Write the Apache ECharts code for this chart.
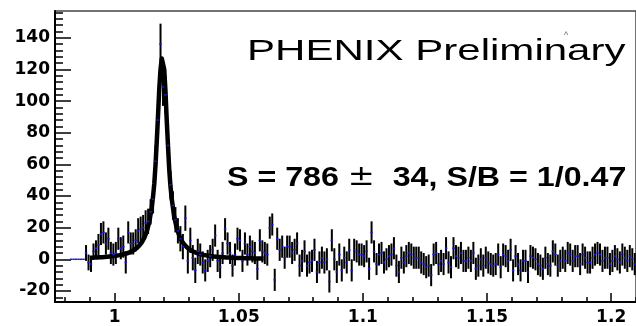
<!DOCTYPE html>
<html><head><meta charset="utf-8">
<script src="https://cdn.jsdelivr.net/npm/echarts@6/dist/echarts.min.js"></script>
<style>html,body{margin:0;padding:0;background:#fff}#c{width:636px;height:326px}</style>
</head><body><div id="c"></div>
<script>
// Histogram definition (bin edges start and width, GeV/c^2)
const binStart = 0.982;
const binWidth = 0.001;
// Counts per bin (first 6 bins empty)
const counts = [
  0,0,0,0,0,0,
  4,-2,-3,5,7,9,16,17,10,13,4,3,4,13,7,8,-2,17,10,10,12,18,19,20,23,24,30,38,
  62,88,136,109,104,72,47,34,25,18,13,8,
  26,-1,12,1,-7,5,3,-2,-7,-1,
  2,6,15,-1,-5,4,19,10,4,-4,
  3,13,12,-1,10,3,8,5,4,-6,
  12,5,4,3,20,22,-13,13,6,8,
  1,8,8,4,6,10,-4,-1,5,-4,
  -2,-1,6,-8,-2,1,-2,0,-14,12,
  0,-8,3,-7,1,-2,6,-7,6,5,
  3,3,2,5,-6,17,5,-3,3,4,
  -2,0,2,3,7,-4,-8,1,-2,2,
  4,3,1,1,1,-2,-3,-5,-4,-10,
  3,4,-3,-1,-3,7,-2,-5,7,2,
  1,4,-1,-1,1,-1,
  4,-6,-4,0,-4,1,-2,-3,-4,-3,
  3,-5,3,2,-1,6,-7,2,-3,-7,
  -1,-1,-8,2,1,0,-3,-4,-6,1,
  -3,-4,5,3,-4,-1,1,-1,4,3,
  -1,2,2,-3,3,1,-2,-2,1,3,
  4,3,-1,1,1,-3,-1,2,0,-2,
  3,1,-1,2,0,-3,1
];
// Errors for the first bins (empty bins have none); the flat background error after that
const errNear = [
  0,0,0,0,0,0,
  5,5,5,5,5,
  7,7,7,7,7,7,7,7,7,7,7,7,7,7,7,7,
  8,8,8,8,8,8,
  9,10,11,13,12,12,10,9,9,8,
  8,8,8,8,8,8,8,8,8
];
const errFar = 7;
// Fit curve
const fitX = [0.990,0.991,0.992,0.993,0.994,0.995,0.996,0.997,0.998,0.999,
  1.000,1.001,1.002,1.003,1.004,1.005,1.006,1.007,1.008,1.009,
  1.010,1.011,1.012,1.013,1.014,1.015,1.0155,1.016,1.0165,1.017,1.0175,1.018,1.0185,1.019,
  1.0195,1.020,1.0205,1.021,1.0215,1.022,1.0225,1.023,1.024,1.025,1.026,1.027,1.028,1.029,
  1.030,1.031,1.032,1.033,1.034,1.035,1.036,1.037,1.038,1.039,
  1.040,1.041,1.042,1.043,1.044,1.045,1.046,1.047,1.048,1.049,
  1.050,1.051,1.052,1.053,1.054,1.055,1.056,1.057,1.058,1.059,1.060];
const fitY = [0.92,0.99,1.06,1.15,1.24,1.34,1.46,1.59,1.74,1.92,
  2.12,2.35,2.63,2.96,3.35,3.81,4.39,5.12,6.02,7.2,
  8.74,10.8,13.7,17.8,23.8,33.2,39.8,48.1,60,75,91,108,120,127,
  127,120,106,88,72,57,46.3,38.4,27.1,19.9,15.1,11.8,9.48,7.75,
  6.45,5.45,4.67,4.03,3.53,3.1,2.75,2.46,2.2,1.99,
  1.81,1.65,1.51,1.39,1.28,1.18,1.1,1.02,0.95,0.89,
  0.83,0.78,0.73,0.69,0.65,0.62,0.58,0.55,0.52,0.5,0.47];
// Axis ticks and labels
const xMajorTicks = [1, 1.05, 1.1, 1.15, 1.2];
const xMajorLabels = ['1', '1.05', '1.1', '1.15', '1.2'];
const xMinorTicks = [0.98,0.99,1.01,1.02,1.03,1.04,1.06,1.07,1.08,1.09,1.11,1.12,1.13,1.14,1.16,1.17,1.18,1.19,1.21];
const yMajorTicks = [-20, 0, 20, 40, 60, 80, 100, 120, 140];
const yMinorTicks = [-24,-16,-12,-8,-4,4,8,12,16,24,28,32,36,44,48,52,56,64,68,72,76,84,88,92,96,104,108,112,116,124,128,132,136,144,148,152,156];
const titleText = 'PHENIX Preliminary';
const fitText = ['S = 786 ', '\u00B1', '  34, S/B = 1/0.47'];

const pts = counts.map((c, i) => [binStart + (i + 0.5) * binWidth, c, i < errNear.length ? errNear[i] : errFar]);

const chart = echarts.init(document.getElementById('c'), null, {renderer: 'canvas'});
const labelFont = {fontFamily: '"DejaVu Sans"', fontWeight: 'bold', fontSize: 17, color: '#000'};
chart.setOption({
  animation: false,
  grid: {left: 55, top: 11, width: 603, height: 292, show: true, borderColor: '#444', borderWidth: 1.5},
  xAxis: [
    {type: 'value', min: 0.976, max: 1.21, position: 'bottom',
      axisLine: {show: true, onZero: false, lineStyle: {color: '#000', width: 2}},
      axisTick: {show: true, inside: true, length: 9, customValues: xMajorTicks, lineStyle: {color: '#000', width: 1.5}},
      axisLabel: Object.assign({customValues: xMajorTicks, margin: 7,
        formatter: v => xMajorLabels[xMajorTicks.findIndex(t => Math.abs(t - v) < 1e-9)] || ''}, labelFont),
      splitLine: {show: false}},
    {type: 'value', min: 0.976, max: 1.21, position: 'bottom',
      axisLine: {show: false, onZero: false},
      axisTick: {show: true, inside: true, length: 5, customValues: xMinorTicks, lineStyle: {color: '#000', width: 1.5}},
      axisLabel: {show: false}, splitLine: {show: false}}
  ],
  yAxis: [
    {type: 'value', min: -27, max: 157, position: 'left',
      axisLine: {show: true, onZero: false, lineStyle: {color: '#000', width: 2}},
      axisTick: {show: true, inside: true, length: 16, customValues: yMajorTicks, lineStyle: {color: '#000', width: 1.5}},
      axisLabel: Object.assign({customValues: yMajorTicks, margin: 5}, labelFont),
      splitLine: {show: false}},
    {type: 'value', min: -27, max: 157, position: 'left',
      axisLine: {show: false, onZero: false},
      axisTick: {show: true, inside: true, length: 8, customValues: yMinorTicks, lineStyle: {color: '#000', width: 1.5}},
      axisLabel: {show: false}, splitLine: {show: false}}
  ],
  series: [
    {type: 'custom', name: 'errors', xAxisIndex: 0, yAxisIndex: 0, clip: true, z: 2,
      data: pts, encode: {x: 0, y: 1},
      renderItem: (params, api) => {
        const x = api.value(0), y = api.value(1), e = api.value(2);
        if (!(e > 0)) return null;
        const t = api.coord([x, y + e]), b = api.coord([x, y - e]);
        return {type: 'line', shape: {x1: t[0], y1: t[1], x2: b[0], y2: b[1]},
          style: {stroke: '#000', lineWidth: 2}};
      }},
    {type: 'line', name: 'fit', xAxisIndex: 0, yAxisIndex: 0, z: 3,
      data: fitX.map((x, i) => [x, fitY[i]]), showSymbol: false, symbol: 'none',
      lineStyle: {color: '#000', width: 4.5, join: 'round'}},
    {type: 'custom', name: 'points', xAxisIndex: 0, yAxisIndex: 0, clip: true, z: 4,
      data: pts, encode: {x: 0, y: 1},
      renderItem: (params, api) => {
        const x = api.value(0), y = api.value(1);
        const l = api.coord([x - binWidth / 2, y]), r = api.coord([x + binWidth / 2, y]);
        return {type: 'line', shape: {x1: l[0], y1: l[1], x2: r[0], y2: r[1]},
          style: {stroke: '#1a1acc', lineWidth: 1.5}};
      }}
  ],
  graphic: [
    {type: 'text', x: 247, y: 52, scaleX: 1.45, scaleY: 1.02, z: 10,
      style: {text: titleText, font: '29px "Liberation Sans"', fill: '#000', verticalAlign: 'middle', align: 'left'}},
    {type: 'text', x: 227, y: 178, scaleX: 1.15, z: 10,
      style: {text: '{b|' + fitText[0] + '}{p|' + fitText[1] + '}{b|' + fitText[2] + '}',
        verticalAlign: 'middle', align: 'left', fill: '#000',
        rich: {b: {font: 'bold 28px "Liberation Sans"', fill: '#000'},
               p: {font: '28px "DejaVu Sans"', fill: '#000'}}}},
    {type: 'text', x: 566, y: 36, z: 10,
      style: {text: '^', font: '9px "Liberation Sans"', fill: '#666', align: 'center', verticalAlign: 'middle'}}
  ]
});
</script></body></html>
